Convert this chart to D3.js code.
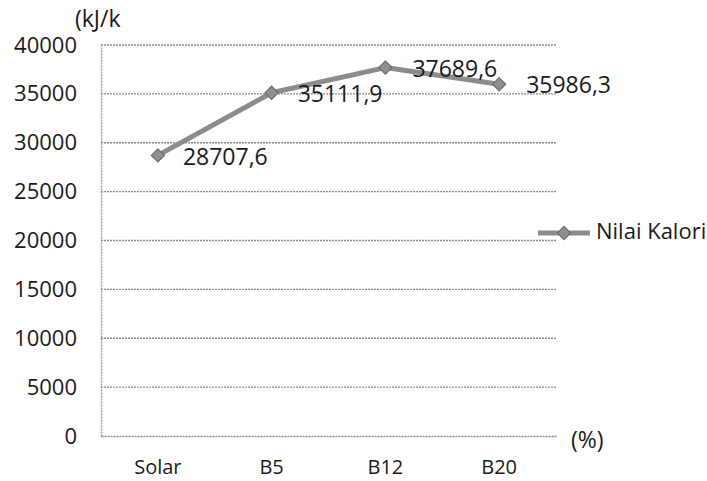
<!DOCTYPE html>
<html>
<head>
<meta charset="utf-8">
<script src="https://cdn.jsdelivr.net/npm/d3@7"></script>
<style>
  html, body { margin: 0; padding: 0; background: #fff; }
  svg text { font-family: "Open Sans", Lato, sans-serif; fill: #1a1a1a; }
</style>
</head>
<body>
<svg id="chart" width="707" height="481"></svg>
<script>
// Calorific value per fuel blend
const categories = ["Solar", "B5", "B12", "B20"];
const values = [28707.6, 35111.9, 37689.6, 35986.3];
const valueLabels = ["28707,6", "35111,9", "37689,6", "35986,3"];
const yTicks = [0, 5000, 10000, 15000, 20000, 25000, 30000, 35000, 40000];
const seriesName = "Nilai Kalori";
const yUnit = "(kJ/k";
const xUnit = "(%)";

const svg = d3.select("#chart");
const plot = { left: 101, right: 556, top: 45, bottom: 436 };

const x = d3.scaleBand().domain(categories).range([plot.left, plot.right]);
const y = d3.scaleLinear().domain([0, 40000]).range([plot.bottom, plot.top]);
const cx = d => x(d) + x.bandwidth() / 2;

// horizontal gridlines
svg.append("g")
  .selectAll("line")
  .data(yTicks.slice(1))
  .join("line")
  .attr("x1", plot.left).attr("x2", plot.right)
  .attr("y1", d => y(d)).attr("y2", d => y(d))
  .attr("stroke", "#8a8a8a").attr("stroke-width", 1.4)
  .attr("stroke-dasharray", "2,1");

// axes
const yAxis = d3.axisLeft(y).tickValues(yTicks).tickFormat(d3.format("d")).tickSize(0).tickPadding(24);
const gy = svg.append("g").attr("transform", `translate(${plot.left},0)`).call(yAxis);
gy.select(".domain").attr("stroke", "#9a9a9a").attr("stroke-width", 1.4).attr("stroke-dasharray", "2,1");
gy.selectAll("text").attr("font-size", 22).attr("fill", "#1a1a1a");

const xAxis = d3.axisBottom(x).tickSize(0).tickPadding(24);
const gx = svg.append("g").attr("transform", `translate(0,${plot.bottom})`).call(xAxis);
gx.select(".domain").attr("stroke", "#8a8a8a").attr("stroke-width", 1.4).attr("stroke-dasharray", "2,1");
gx.selectAll("text").attr("font-size", 20).attr("fill", "#1a1a1a");

// axis units
svg.append("text").attr("x", 75).attr("y", 27).attr("font-size", 23).text(yUnit);
svg.append("text").attr("x", 571).attr("y", 448).attr("font-size", 23).text(xUnit);

// series line
const line = d3.line().x((d, i) => cx(categories[i])).y(d => y(d));
svg.append("path")
  .datum(values)
  .attr("d", line)
  .attr("fill", "none")
  .attr("stroke", "#8c8c8c")
  .attr("stroke-width", 5)
  .attr("stroke-linejoin", "round");

// diamond markers
const diamond = d3.symbol().type(d3.symbolDiamond2).size(110);
svg.append("g")
  .selectAll("path")
  .data(values)
  .join("path")
  .attr("d", diamond)
  .attr("transform", (d, i) => `translate(${cx(categories[i])},${y(d)})`)
  .attr("fill", "#8f8f8f")
  .attr("stroke", "#6e6e6e")
  .attr("stroke-width", 1.2);

// value labels, right of each point
svg.append("g")
  .selectAll("text")
  .data(values)
  .join("text")
  .attr("x", (d, i) => cx(categories[i]) + [25, 26, 27, 27][i])
  .attr("y", (d, i) => y(d) + [10, 9, 9.5, 9][i])
  .attr("font-size", 23)
  .text((d, i) => valueLabels[i]);

// legend
const lg = svg.append("g").attr("transform", "translate(538,233)");
lg.append("line").attr("x1", 0).attr("x2", 52).attr("y1", 0).attr("y2", 0)
  .attr("stroke", "#8c8c8c").attr("stroke-width", 5);
lg.append("path").attr("d", diamond).attr("transform", "translate(26,0)")
  .attr("fill", "#8f8f8f").attr("stroke", "#6e6e6e").attr("stroke-width", 1.2);
lg.append("text").attr("x", 58).attr("y", 6).attr("font-size", 22).text(seriesName);
</script>
</body>
</html>
